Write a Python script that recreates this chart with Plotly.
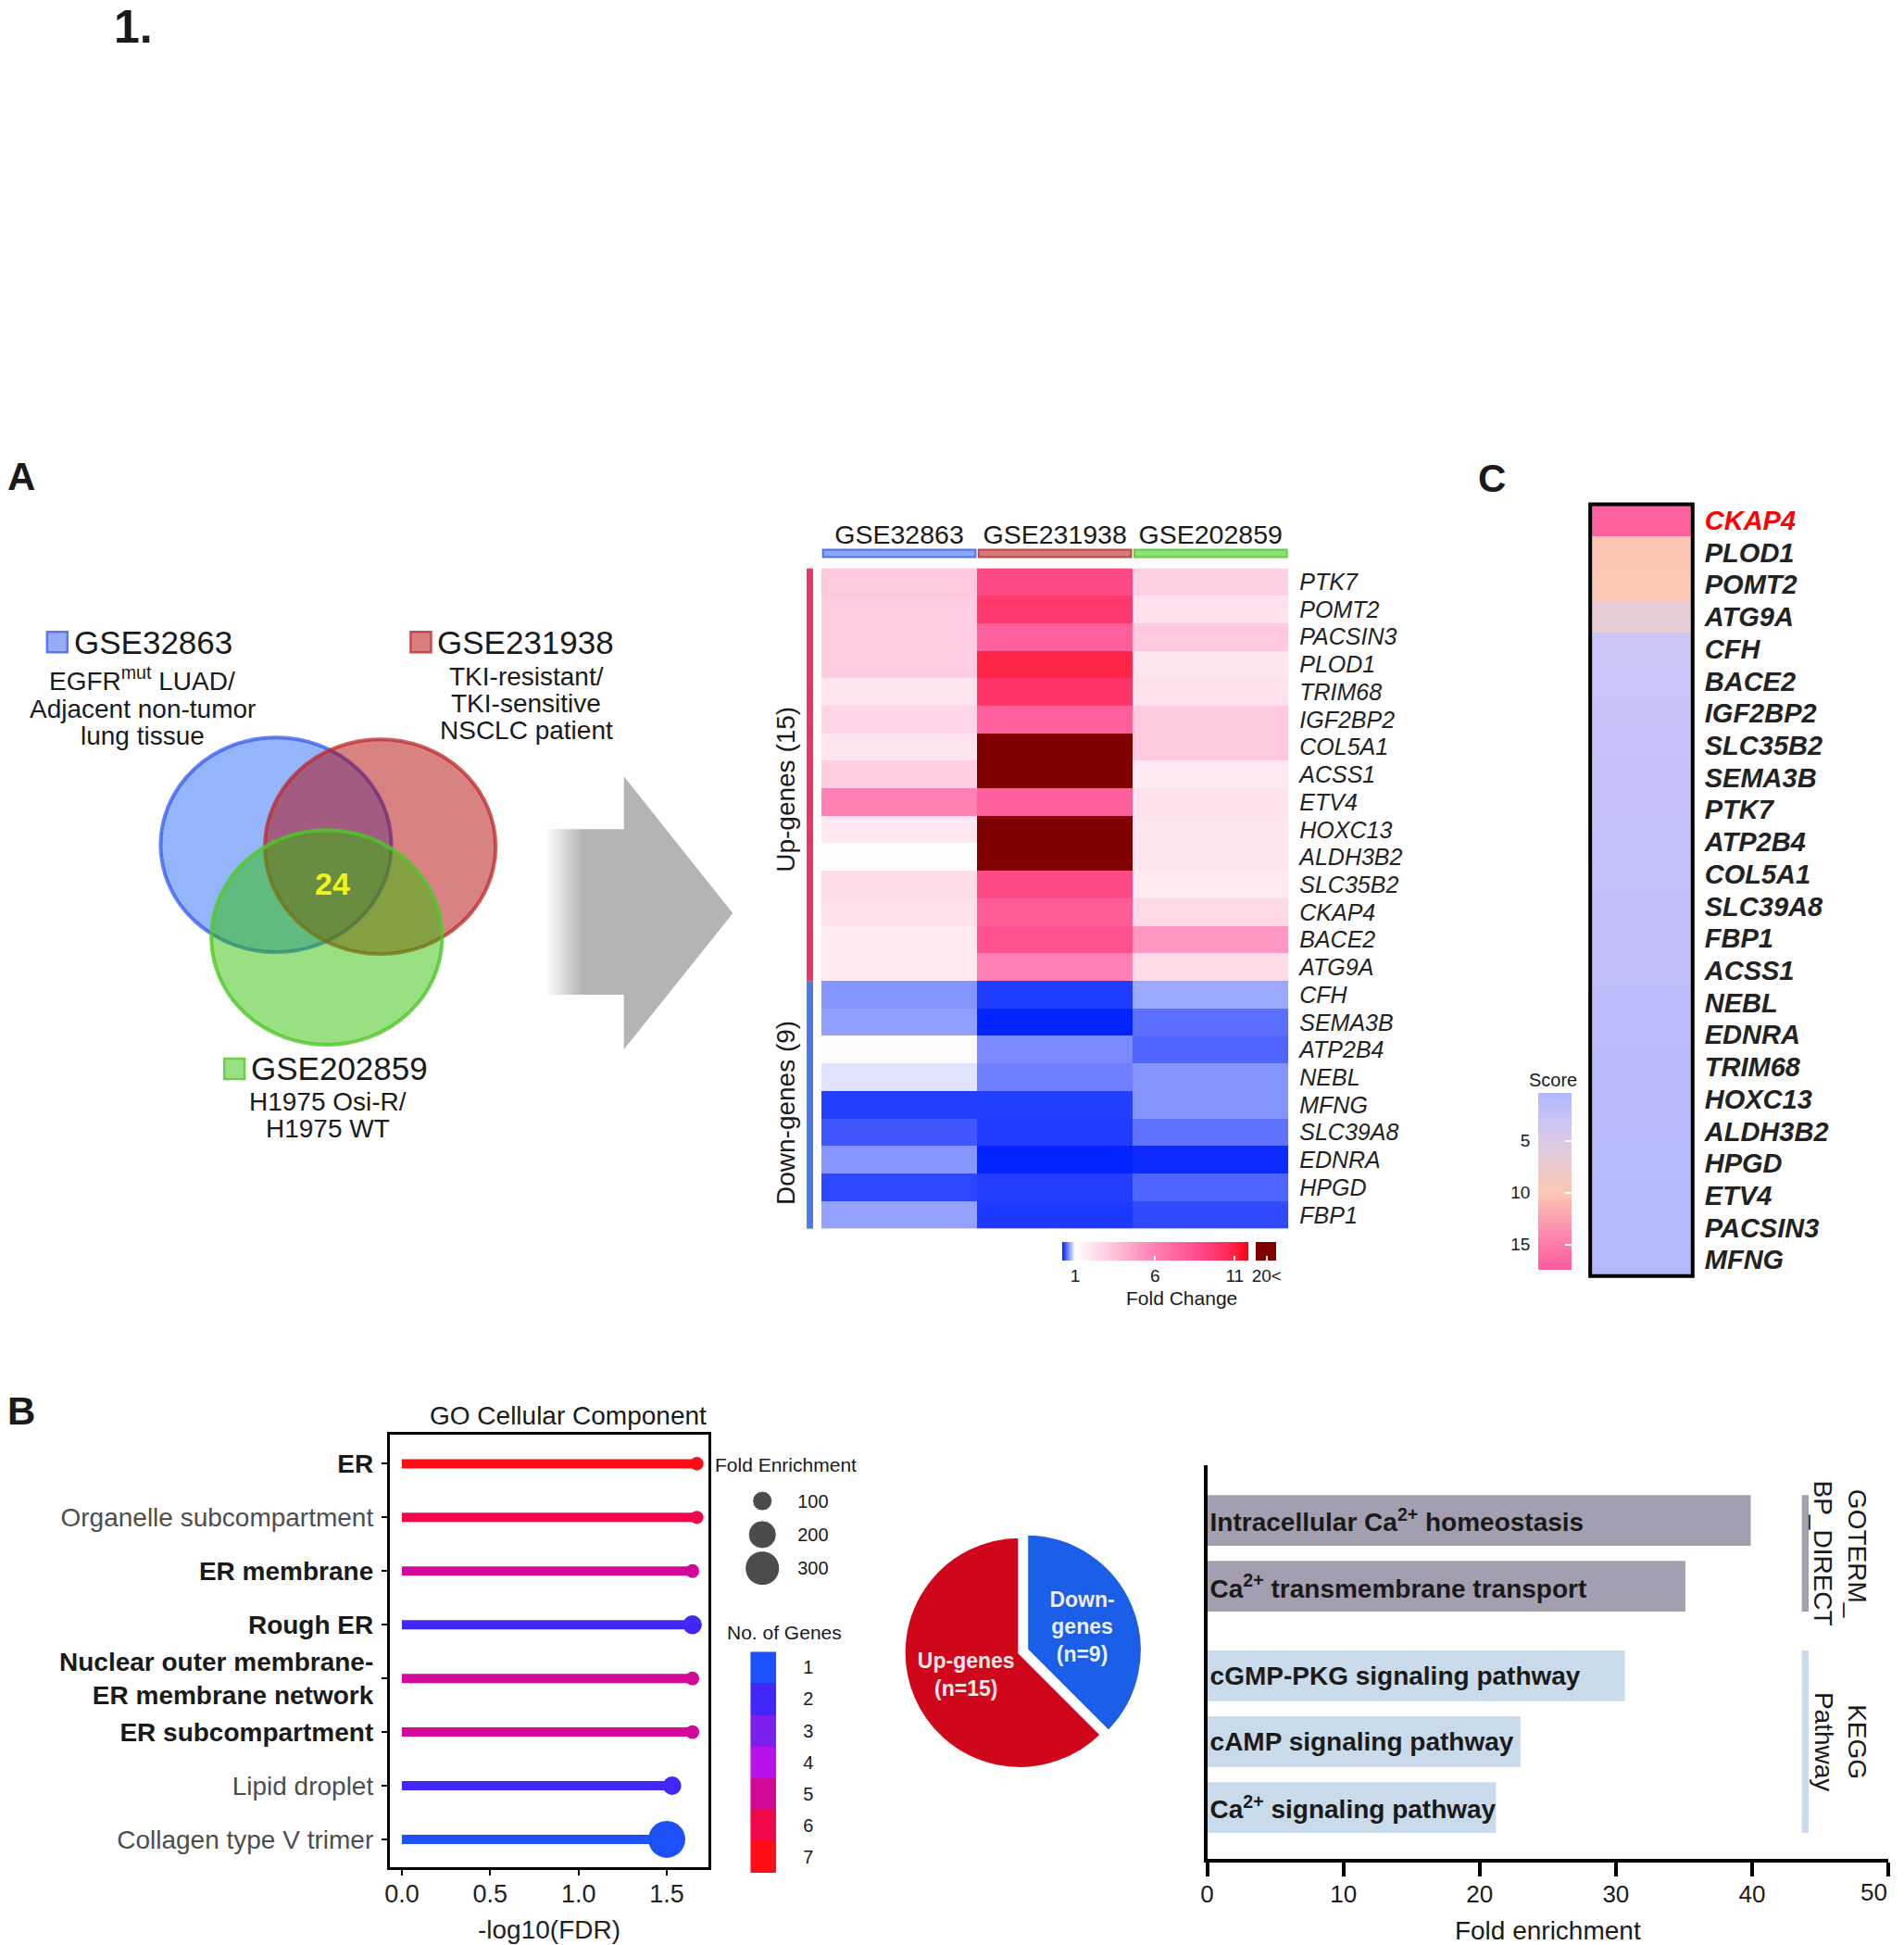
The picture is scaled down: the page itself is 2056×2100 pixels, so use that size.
import plotly.graph_objects as go

W, H = 2056, 2100
def px(x): return x / W
def py(y): return 1 - y / H

FONT = "Liberation Sans, Arial, Helvetica, sans-serif"
INK = "#1a1a1a"

# ======================= DATA =======================
# Venn (panel A)
venn_sets = ["GSE32863", "GSE231938", "GSE202859"]
venn_desc = [["EGFR<sup>mut</sup> LUAD/", "Adjacent non-tumor", "lung tissue"],
             ["TKI-resistant/", "TKI-sensitive", "NSCLC patient"],
             ["H1975 Osi-R/", "H1975 WT"]]
venn_common = 24

# Fold-change heatmap (panel A)
hm_datasets = ["GSE32863", "GSE231938", "GSE202859"]
hm_genes = ["PTK7", "POMT2", "PACSIN3", "PLOD1", "TRIM68", "IGF2BP2", "COL5A1", "ACSS1",
            "ETV4", "HOXC13", "ALDH3B2", "SLC35B2", "CKAP4", "BACE2", "ATG9A",
            "CFH", "SEMA3B", "ATP2B4", "NEBL", "MFNG", "SLC39A8", "EDNRA", "HPGD", "FBP1"]
fc_gse32863 = [3.17, 3.0, 3.0, 3.0, 2.06, 2.69, 2.06, 3.0, 6.0, 1.9, 1.05, 2.38, 2.22, 1.83, 1.83,
               0.61, 0.65, 0.99, 0.90, 0.30, 0.39, 0.62, 0.33, 0.66]
fc_gse231938 = [8.9, 9.8, 7.7, 10.8, 10.0, 7.7, 24.3, 22.6, 7.7, 31.5, 27.8, 8.9, 7.9, 8.5, 6.0,
                0.29, 0.20, 0.58, 0.54, 0.30, 0.29, 0.20, 0.30, 0.28]
fc_gse202859 = [2.85, 2.22, 3.17, 2.06, 2.22, 3.17, 3.17, 1.83, 2.22, 2.06, 2.06, 1.83, 2.54, 5.06, 2.38,
                0.68, 0.48, 0.44, 0.61, 0.61, 0.49, 0.23, 0.44, 0.34]
n_up, n_down = 15, 9
fc_ticks = [1, 6, 11]

# Score ranking (panel C)
score_genes = ["CKAP4", "PLOD1", "POMT2", "ATG9A", "CFH", "BACE2", "IGF2BP2", "SLC35B2", "SEMA3B",
               "PTK7", "ATP2B4", "COL5A1", "SLC39A8", "FBP1", "ACSS1", "NEBL", "EDNRA", "TRIM68",
               "HOXC13", "ALDH3B2", "HPGD", "ETV4", "PACSIN3", "MFNG"]
score_values = [17.0, 10.2, 9.9, 6.7, 3.3, 3.1, 2.9, 2.8, 2.6, 2.5, 2.3, 2.2, 2.0, 1.9, 1.8,
                1.6, 1.5, 1.4, 1.3, 1.1, 1.0, 0.9, 0.7, 0.6]
score_ticks = [5, 10, 15]
score_highlight = "CKAP4"

# GO cellular component (panel B)
go_terms = ["ER", "Organelle subcompartment", "ER membrane", "Rough ER",
            "Nuclear outer membrane-ER membrane network", "ER subcompartment",
            "Lipid droplet", "Collagen type V trimer"]
go_neglog_fdr = [1.67, 1.67, 1.645, 1.645, 1.645, 1.645, 1.53, 1.50]
go_fold_enrichment = [50, 48, 52, 95, 52, 52, 90, 345]
go_gene_count = [7, 6, 5, 2, 5, 5, 2, 1]
go_bold_terms = ["ER", "ER membrane", "Rough ER",
                 "Nuclear outer membrane-ER membrane network", "ER subcompartment"]
fe_legend_values = [100, 200, 300]
gene_count_levels = [1, 2, 3, 4, 5, 6, 7]
lfdr_ticks = [0.0, 0.5, 1.0, 1.5]

# Pie
pie_labels = ["Down-genes", "Up-genes"]
pie_counts = [n_down, n_up]

# Pathway enrichment bars
pathway_terms = ["Intracellular Ca<sup>2+</sup> homeostasis", "Ca<sup>2+</sup> transmembrane transport",
                 "cGMP-PKG signaling pathway", "cAMP signaling pathway", "Ca<sup>2+</sup> signaling pathway"]
pathway_groups = ["GOTERM_BP_DIRECT", "GOTERM_BP_DIRECT", "KEGG Pathway", "KEGG Pathway", "KEGG Pathway"]
pathway_fold = [39.9, 35.1, 30.65, 23.0, 21.2]
fold_ticks = [0, 10, 20, 30, 40, 50]

# ======================= STYLE =======================
fc_cap_display = 13.0       # where ">20" values sit on the colour scale
fc_lo, fc_hi = 0.19, 13.6
fc_stops = [(0.19, "#0020ff"), (1.0, "#ffffff"), (6.0, "#ff80b4"), (8.5, "#ff5090"),
            (10.0, "#ff3468"), (11.0, "#ff2040"), (11.87, "#ff0010"), (11.87, "#ffffff"),
            (12.33, "#ffffff"), (12.33, "#800000"), (13.6, "#800000")]
score_lo, score_hi = 0.4, 17.4
score_stops = [(0.4, "#b0b8fc"), (3.2, "#cac4f8"), (6.5, "#e6cbd8"), (10.0, "#fcc8b2"),
               (13.5, "#fc90b0"), (17.4, "#ff5a9c")]
count_palette = {1: "#1c50f8", 2: "#4228f8", 3: "#7c20f0", 4: "#b810e8",
                 5: "#d40898", 6: "#f00848", 7: "#ff0c14"}
group_colors = {"GOTERM_BP_DIRECT": "#a49fb0", "KEGG Pathway": "#c9daea"}
group_titles = {"GOTERM_BP_DIRECT": "GOTERM_<br>BP_DIRECT", "KEGG Pathway": "KEGG<br>Pathway"}
pie_colors = {"Down-genes": "#1b5fe8", "Up-genes": "#d0061a"}
pie_text_fmt = {"Down-genes": "Down-<br>genes", "Up-genes": "Up-genes"}
GROUP_GAP = 0.36
BAR_W = 0.77


def scale_from(stops, lo, hi, negate=False):
    pts = []
    seq = list(reversed(stops)) if negate else stops
    zlo, zhi = (-hi, -lo) if negate else (lo, hi)
    for v, c in seq:
        z = -v if negate else v
        p = min(1.0, max(0.0, (z - zlo) / (zhi - zlo)))
        pts.append([p, c])
    pts[0][0] = 0.0
    pts[-1][0] = 1.0
    return pts


def fe_to_px(fe):
    return 2.2 * fe ** 0.5 - 1


fig = go.Figure()

# ---------------- Panel A heatmap ----------------
fc_rows = [[a, b, c] for a, b, c in zip(fc_gse32863, fc_gse231938, fc_gse202859)]
z_disp = [[(v if v <= 20 else fc_cap_display) for v in row] for row in fc_rows]
fig.add_trace(go.Heatmap(
    z=z_disp, x=hm_datasets, y=hm_genes, customdata=fc_rows,
    hovertemplate="%{y} / %{x}: FC %{customdata}<extra></extra>",
    colorscale=scale_from(fc_stops, fc_lo, fc_hi), zmin=fc_lo, zmax=fc_hi,
    xaxis="x", yaxis="y",
    colorbar=dict(orientation="h", x=px(1144), xanchor="left", y=py(1342), yanchor="top",
                  len=231, lenmode="pixels", thickness=20, thicknessmode="pixels",
                  outlinewidth=0, xpad=0, ypad=0,
                  tickvals=fc_ticks + [fc_cap_display],
                  ticktext=[str(t) for t in fc_ticks] + ["20<"],
                  ticks="inside", tickcolor="white", ticklen=5, tickwidth=2,
                  tickfont=dict(size=19, color=INK, family=FONT))))

# ---------------- Panel C heatmap ----------------
fig.add_trace(go.Heatmap(
    z=[[-s] for s in score_values], x=["Score"], y=score_genes,
    customdata=[[s] for s in score_values],
    hovertemplate="%{y}: %{customdata}<extra></extra>",
    colorscale=scale_from(score_stops, score_lo, score_hi, negate=True),
    zmin=-score_hi, zmax=-score_lo, xaxis="x2", yaxis="y2",
    colorbar=dict(x=px(1660), xanchor="left", y=py(1181), yanchor="top",
                  len=191, lenmode="pixels", thickness=36, thicknessmode="pixels",
                  outlinewidth=0, xpad=0, ypad=0,
                  tickvals=[-t for t in score_ticks], ticks="inside", tickcolor="white",
                  ticklen=7, tickwidth=2, showticklabels=False)))
# invisible anchor trace for the score tick axis
fig.add_trace(go.Scatter(x=[0], y=[score_ticks[0]], xaxis="x3", yaxis="y3", mode="markers",
                         marker=dict(opacity=0), hoverinfo="skip", showlegend=False))

# ---------------- Panel B lollipop ----------------
for term, val, cnt in zip(go_terms, go_neglog_fdr, go_gene_count):
    fig.add_trace(go.Scatter(x=[0, val], y=[term, term], mode="lines", xaxis="x4", yaxis="y4",
                             line=dict(color=count_palette[cnt], width=10),
                             hoverinfo="skip", showlegend=False))
fig.add_trace(go.Scatter(
    x=go_neglog_fdr, y=go_terms, mode="markers", xaxis="x4", yaxis="y4",
    marker=dict(size=[fe_to_px(f) for f in go_fold_enrichment],
                color=[count_palette[c] for c in go_gene_count], line=dict(width=0), opacity=1),
    customdata=list(zip(go_fold_enrichment, go_gene_count)),
    hovertemplate="%{y}<br>-log10(FDR) %{x}<br>FE %{customdata[0]}, genes %{customdata[1]}<extra></extra>",
    showlegend=False))
# size legend
fig.add_trace(go.Scatter(x=[0] * len(fe_legend_values), y=fe_legend_values, mode="markers",
                         xaxis="x5", yaxis="y5",
                         marker=dict(size=[fe_to_px(f) for f in fe_legend_values], color="black"),
                         hoverinfo="skip", showlegend=False))
# gene count legend
n_lv = len(gene_count_levels)
count_scale = []
for k, lv in enumerate(gene_count_levels):
    count_scale += [[k / n_lv, count_palette[lv]], [(k + 1) / n_lv, count_palette[lv]]]
fig.add_trace(go.Heatmap(z=[[lv] for lv in gene_count_levels], x=[0], y=gene_count_levels,
                         colorscale=count_scale, zmin=gene_count_levels[0] - 0.5,
                         zmax=gene_count_levels[-1] + 0.5, showscale=False,
                         xaxis="x6", yaxis="y6", hoverinfo="skip"))

# ---------------- Pie ----------------
pie_r, pull = 126, 0.06
half = pie_r * (1 + pull)
pie_cx, pie_cy = 1098, 1786
fig.add_trace(go.Pie(
    values=pie_counts, labels=pie_labels,
    text=["<b>%s<br>(n=%d)</b>" % (pie_text_fmt[l], n) for l, n in zip(pie_labels, pie_counts)],
    textinfo="text", hoverinfo="label+value", direction="clockwise", rotation=0, sort=False,
    pull=[pull, 0], marker=dict(colors=[pie_colors[l] for l in pie_labels],
                                line=dict(color="white", width=4)),
    textfont=dict(color="rgba(255,255,255,0.93)", size=23, family=FONT),
    insidetextorientation="horizontal", textposition="inside", showlegend=False,
    domain=dict(x=[px(pie_cx - half), px(pie_cx + half)], y=[py(pie_cy + half), py(pie_cy - half)])))

# ---------------- Pathway bars ----------------
group_order = []
for g in pathway_groups:
    if g not in group_order:
        group_order.append(g)
bar_pos = [i + GROUP_GAP * group_order.index(g) for i, g in enumerate(pathway_groups)]
fig.add_trace(go.Bar(
    x=pathway_fold, y=bar_pos, orientation="h", width=BAR_W, xaxis="x7", yaxis="y7",
    marker=dict(color=[group_colors[g] for g in pathway_groups], line=dict(width=0)),
    text=["<b>%s</b>" % t for t in pathway_terms], textposition="inside",
    insidetextanchor="start", textangle=0, constraintext="none",
    textfont=dict(size=28, color=INK, family=FONT), cliponaxis=False,
    hovertemplate="%{x}<extra></extra>", showlegend=False))

# ---------------- Arrow (canvas) ----------------
arrow_x = [584, 669, 669, 787, 669, 669, 584, 584]
arrow_y = [896, 896, 839, 987, 1134, 1075, 1075, 896]
fig.add_trace(go.Scatter(x=arrow_x, y=arrow_y, mode="lines", fill="toself", xaxis="x8", yaxis="y8",
                         line=dict(width=0, color="rgba(0,0,0,0)"),
                         fillgradient=dict(type="horizontal",
                                           colorscale=[[0, "rgba(255,255,255,1)"], [0.2, "#b4b4b4"],
                                                       [1, "#b4b4b4"]]),
                         hoverinfo="skip", showlegend=False))

# ======================= LAYOUT =======================
shapes, annotations = [], []

def ann(text, x, y, size, xref="x8", yref="y8", xanchor="center", yanchor="middle",
        color=INK, angle=0, align="center"):
    annotations.append(dict(text=text, x=x, y=y, xref=xref, yref=yref, xanchor=xanchor,
                            yanchor=yanchor, showarrow=False, textangle=angle, align=align,
                            borderpad=0, font=dict(size=size, color=color, family=FONT)))

# panel letters
ann("<b>1.</b>", 137, 0, 50, yanchor="top")
ann("<b>A</b>", 0, 515, 42, xanchor="left")
ann("<b>C</b>", 1609, 517, 42)
ann("<b>B</b>", 0, 1525, 42, xanchor="left")

# Venn circles
venn_geom = [((292, 913), "rgba(37,102,249,0.49)", "rgba(50,90,240,0.75)"),
             ((405, 915), "rgba(175,0,0,0.49)", "rgba(190,40,40,0.75)"),
             ((347, 1013), "rgba(45,192,0,0.49)", "rgba(80,200,40,0.8)")]
for (cx, cy), fc, lc in venn_geom:
    shapes.append(dict(type="circle", xref="x8", yref="y8", x0=cx - 125, x1=cx + 125,
                       y0=cy - 116, y1=cy + 116, fillcolor=fc, line=dict(color=lc, width=4)))
ann("<b>%d</b>" % venn_common, 353, 955, 34, color="#f2f21e")

# Venn labels
sq_style = [("#94acfc", "#5a78f2"), ("#d88080", "#c84848"), ("#98e080", "#68d048")]
label_pos = [(44, 694, 147, 734), (438, 694, 563, 731), (236, 1155, 348, 1191)]
for name, desc, (sx, sy, dx, dy), (sf, sl) in zip(venn_sets, venn_desc, label_pos, sq_style):
    shapes.append(dict(type="rect", xref="x8", yref="y8", x0=sx, x1=sx + 22, y0=sy - 11, y1=sy + 11,
                       fillcolor=sf, line=dict(color=sl, width=2.5)))
    ann(name, sx + 28, sy, 35, xanchor="left")
    for k, line in enumerate(desc):
        ann(line, dx, dy + 29 * k + (3 if (k > 0 and "<sup>" in desc[0]) else 0), 28)

# Heatmap header bars + group bars
hdr_cols = [("#8aa8fa", "#4f6ef0"), ("#d47878", "#c04444"), ("#90e078", "#5cd040")]
for i, (f, l) in enumerate(hdr_cols):
    shapes.append(dict(type="rect", xref="x", yref="paper", x0=i - 0.49, x1=i + 0.49,
                       y0=py(602), y1=py(594), fillcolor=f, line=dict(color=l, width=2)))
shapes.append(dict(type="rect", xref="paper", yref="y", x0=px(867), x1=px(874),
                   y0=-0.5, y1=n_up - 0.5, fillcolor="#e8386a", line=dict(width=0)))
shapes.append(dict(type="rect", xref="paper", yref="y", x0=px(867), x1=px(874),
                   y0=n_up - 0.5, y1=n_up + n_down - 0.5, fillcolor="#4a78e8", line=dict(width=0)))
ann("Up-genes (%d)" % n_up, px(845), (n_up - 1) / 2 + 0.55, 28, xref="paper", yref="y", angle=-90)
ann("Down-genes (%d)" % n_down, px(845), n_up + (n_down - 1) / 2 + 0.3, 28, xref="paper", yref="y",
    angle=-90)
ann("Fold Change", px(1273), py(1403), 21, xref="paper", yref="paper")

# Panel C
shapes.append(dict(type="rect", xref="x2 domain", yref="y2 domain", x0=0, x1=1, y0=0, y1=1,
                   line=dict(color="black", width=4)))
ann("Score", px(1676), py(1167), 20, xref="paper", yref="paper")

# Panel B annotations
ann("GO Cellular Component", px(760), py(1530), 28, xref="paper", yref="paper", xanchor="right")
ann("Fold Enrichment", px(767), py(1583), 21, xref="paper", yref="paper", xanchor="left")
ann("No. of Genes", px(843), py(1764), 21, xref="paper", yref="paper")

# Pathway group bars and labels
for g in group_order:
    ps = [p for p, gg in zip(bar_pos, pathway_groups) if gg == g]
    shapes.append(dict(type="rect", xref="x7", yref="y7", x0=43.65, x1=44.15,
                       y0=min(ps) - BAR_W / 2, y1=max(ps) + BAR_W / 2,
                       fillcolor=group_colors[g], line=dict(width=0)))
    ann(group_titles[g], 46.5, sum(ps) / len(ps), 28, xref="x7", yref="y7", angle=90)

# last fold tick label drawn as text so it stays inside the page edge
fold_ticktext = [str(t) for t in fold_ticks[:-1]] + [""]
ann(str(fold_ticks[-1]), fold_ticks[-1], py(2045), 26, xref="x7", yref="paper", xanchor="right")

hm_ticktext = ["<i>%s</i>" % g for g in hm_genes]
c_ticktext = [("<b><i><span style='color:#ff0000'>%s</span></i></b>" % g) if g == score_highlight
              else "<b><i>%s</i></b>" % g for g in score_genes]
go_ticktext = []
for t in go_terms:
    disp = t.replace("membrane-ER", "membrane-<br>ER")
    go_ticktext.append("<b>%s</b>" % disp if t in go_bold_terms
                       else "<span style='color:#4d4d4d'>%s</span>" % disp)

noax = dict(showgrid=False, zeroline=False, showline=False, ticks="")

fig.update_layout(
    width=W, height=H, margin=dict(l=0, r=0, t=0, b=0),
    paper_bgcolor="white", plot_bgcolor="rgba(0,0,0,0)",
    font=dict(family=FONT, color=INK), showlegend=False,
    shapes=shapes, annotations=annotations,
    # A heatmap
    xaxis=dict(domain=[px(883), px(1389)], anchor="y", side="top", categoryorder="array",
               categoryarray=hm_datasets, tickfont=dict(size=28.5, color=INK),
               ticklabelstandoff=20, **noax),
    yaxis=dict(domain=[py(1328), py(614)], anchor="x", side="right", autorange="reversed",
               tickmode="array", tickvals=hm_genes, ticktext=hm_ticktext,
               tickfont=dict(size=25, color="#222"), ticklabelstandoff=11, **noax),
    # C heatmap
    xaxis2=dict(domain=[px(1716), px(1827)], anchor="y2", showticklabels=False, **noax),
    yaxis2=dict(domain=[py(1379), py(545)], anchor="x2", side="right", autorange="reversed",
                tickmode="array", tickvals=score_genes, ticktext=c_ticktext,
                tickfont=dict(size=29, color="#222"), ticklabelstandoff=12, **noax),
    # score tick axis
    xaxis3=dict(domain=[px(1660), px(1696)], anchor="y3", visible=False, range=[-1, 1]),
    yaxis3=dict(domain=[py(1372), py(1181)], anchor="x3", range=[score_hi, score_lo],
                tickmode="array", tickvals=score_ticks, side="left",
                tickfont=dict(size=19, color=INK), ticklabelstandoff=8, **noax),
    # lollipop
    xaxis4=dict(domain=[px(415), px(761)], anchor="y4", range=[-0.07, 1.738],
                tickmode="array", tickvals=lfdr_ticks, ticktext=["%.1f" % t for t in lfdr_ticks],
                ticks="outside", ticklen=6, tickwidth=1.5, tickcolor="black",
                showline=True, mirror=True, linecolor="black", linewidth=2.5,
                showgrid=False, zeroline=False, tickfont=dict(size=27, color="#222"),
                ticklabelstandoff=-3,
                title=dict(text="-log10(FDR)", font=dict(size=28, color="#222"), standoff=15)),
    yaxis4=dict(domain=[py(2018), py(1550)], anchor="x4", range=[len(go_terms) - 0.48, -0.55],
                categoryorder="array", categoryarray=go_terms,
                tickmode="array", tickvals=go_terms, ticktext=go_ticktext,
                ticks="outside", ticklen=6, tickwidth=1.5, tickcolor="black",
                showline=True, mirror=True, linecolor="black", linewidth=2.5,
                showgrid=False, zeroline=False, tickfont=dict(size=28, color=INK),
                ticklabelstandoff=3),
    # size legend
    xaxis5=dict(domain=[px(800), px(838)], anchor="y5", range=[-1, 1], visible=False),
    yaxis5=dict(domain=[py(1713), py(1604)], anchor="x5", range=[350, 50], side="right",
                tickmode="array", tickvals=fe_legend_values, tickfont=dict(size=20, color=INK),
                ticklabelstandoff=18, **noax),
    # gene count legend
    xaxis6=dict(domain=[px(806), px(834)], anchor="y6", visible=False),
    yaxis6=dict(domain=[py(2024), py(1785)], anchor="x6",
                range=[gene_count_levels[-1] + 0.5, gene_count_levels[0] - 0.5], side="right",
                tickmode="array", tickvals=gene_count_levels, tickfont=dict(size=20, color=INK),
                ticklabelstandoff=28, **noax),
    # pathway bars
    xaxis7=dict(domain=[px(1301), px(2039)], anchor="y7", range=[0, 50],
                tickmode="array", tickvals=fold_ticks, ticktext=fold_ticktext,
                ticks="outside", ticklen=15, tickwidth=3.5,
                tickcolor="black", showline=True, linecolor="black", linewidth=3.5,
                showgrid=False, zeroline=False, tickfont=dict(size=26, color=INK),
                ticklabelstandoff=-3,
                title=dict(text="Fold enrichment", font=dict(size=28, color=INK), standoff=20)),
    yaxis7=dict(domain=[py(2009), py(1584)], anchor="x7", range=[5.14, -0.83],
                showticklabels=False, showline=True, linecolor="black", linewidth=3.5,
                showgrid=False, zeroline=False, ticks=""),
    # canvas
    xaxis8=dict(domain=[0, 1], anchor="y8", range=[0, W], visible=False, fixedrange=True),
    yaxis8=dict(domain=[0, 1], anchor="x8", range=[H, 0], visible=False, fixedrange=True),
)

fig.write_html("out.html",
               config={"displayModeBar": False},
               post_script="document.body.style.margin='0px';"
                           "document.documentElement.style.overflow='hidden';")
